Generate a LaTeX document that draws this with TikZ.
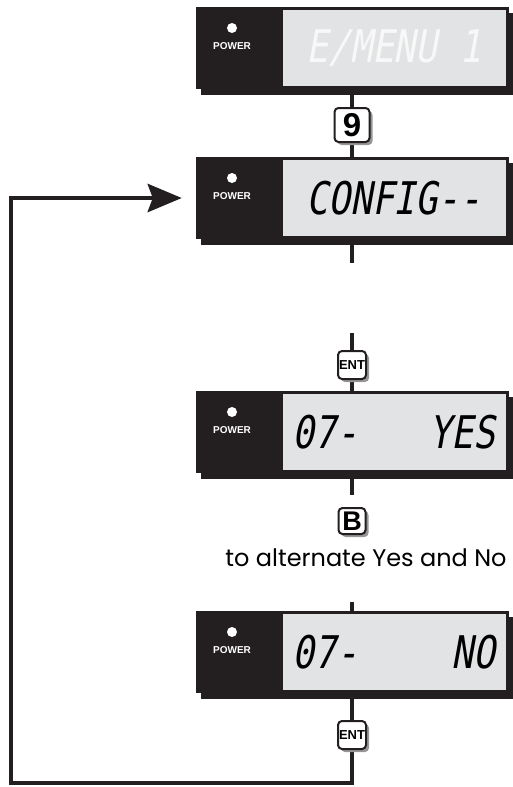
\documentclass[tikz,border=0pt]{standalone}
\usepackage{fontspec}
\usetikzlibrary{arrows.meta,positioning,shadows,backgrounds}
\newfontfamily\notefont{Poppins}
\newfontfamily\labelfont{Liberation Sans}
\newfontfamily\lcdfont{DejaVu Sans Mono}[FakeStretch=0.81,FakeSlant=0.18]
\definecolor{panelblack}{RGB}{35,31,32}
\definecolor{lcdgray}{RGB}{226,227,229}
\definecolor{keyshade}{RGB}{150,150,150}
\definecolor{ghost}{RGB}{248,248,248}

\begin{document}
\begin{tikzpicture}[x=1pt,y=-1pt,
  panel/.style={fill=panelblack,minimum width=313pt,minimum height=82pt,inner sep=0pt,
    drop shadow={shadow xshift=5pt,shadow yshift=-6pt,fill=panelblack,opacity=1}},
  lcd/.style={fill=lcdgray,minimum width=223pt,minimum height=76pt,inner sep=0pt,anchor=east,
    font=\lcdfont\fontsize{45}{45}\selectfont},
  powerlabel/.style={text=white,inner sep=0pt,font=\labelfont\bfseries\fontsize{10}{10}\selectfont},
  keybox/.style={draw=panelblack,line width=2pt,rounded corners=4pt,fill=white,inner sep=0pt,
    font=\labelfont\bfseries\fontsize{13}{13}\selectfont,
    drop shadow={shadow xshift=3pt,shadow yshift=-3pt,fill=keyshade,opacity=1}},
  wire/.style={draw=panelblack,line width=4.8pt}]
\useasboundingbox (0,0) rectangle (512,787);
% displays
\node[panel] (menu) at (352,48) {};
\node[lcd,text=ghost] (menuLcd) at ([xshift=-3pt]menu.east) {E/MENU 1};
\fill[white] (232,28) circle (5pt);
\node[powerlabel] (menuPow) at (232,46) {POWER};

\node[panel] (cfg) at (352,198) {};
\node[lcd] (cfgLcd) at ([xshift=-3pt]cfg.east) {CONFIG--};
\fill[white] (232,178) circle (5pt);
\node[powerlabel] (cfgPow) at (232,196) {POWER};

\node[panel] (yes) at (352,432) {};
\node[lcd] (yesLcd) at ([xshift=-3pt]yes.east) {\makebox[203pt]{07-\hfill YES}};
\fill[white] (232,412) circle (5pt);
\node[powerlabel] (yesPow) at (232,430) {POWER};

\node[panel] (no) at (352,652) {};
\node[lcd] (noLcd) at ([xshift=-3pt]no.east) {\makebox[203pt]{07-\hfill NO}};
\fill[white] (232,632) circle (5pt);
\node[powerlabel] (noPow) at (232,650) {POWER};

% keys
\node[keybox,minimum width=35pt,minimum height=34pt,font=\labelfont\bfseries\fontsize{33}{33}\selectfont] (nine) at (352,125) {9};
\node[keybox,minimum width=28pt,minimum height=28pt] (ent1) at (352,365) {ENT};
\node[keybox,minimum width=27pt,minimum height=26pt,font=\labelfont\bfseries\fontsize{27}{27}\selectfont] (bkey) at (352,521) {B};
\node[keybox,minimum width=28pt,minimum height=28pt] (ent2) at (352,735) {ENT};
\node[anchor=base,font=\notefont\fontsize{24}{24}\selectfont] (altNote) at (366,566) {to alternate Yes and No};

\coordinate (cfgStub) at (352,263);
\coordinate (entStub) at (352,333);
\coordinate (yesStub) at (352,495);
\coordinate (noStub) at (352,602);
\coordinate (loopR) at (352,783);
\coordinate (loopL) at (11,783);

\begin{scope}[on background layer]
\draw[wire] (menu.south) -- (nine.north);
\draw[wire] (nine.south) -- (cfg.north);
\draw[wire] (cfg.south) -- (cfgStub);
\draw[wire] (entStub) -- (ent1.north);
\draw[wire] (ent1.south) -- (yes.north);
\draw[wire] (yes.south) -- (yesStub);
\draw[wire] (noStub) -- (no.north);
\draw[wire] (no.south) -- (ent2.north);
\draw[wire,-{Stealth[length=34pt,width=28pt,inset=5pt]},shorten >=13.5pt] (ent2.south) -- (loopR) -- (loopL) |- (cfg.west);
\end{scope}
\end{tikzpicture}
\end{document}
